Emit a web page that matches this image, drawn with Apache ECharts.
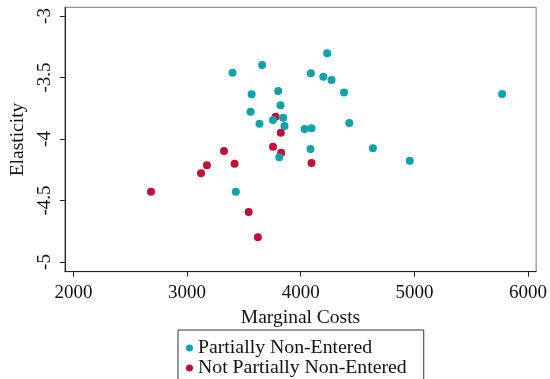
<!DOCTYPE html>
<html>
<head>
<meta charset="utf-8">
<script src="https://cdn.jsdelivr.net/npm/echarts@6/dist/echarts.min.js"></script>
<style>
html,body{margin:0;padding:0;background:#fff;}
#chart{width:550px;height:379px;}
</style>
</head>
<body>
<div id="chart"></div>
<script>
var seriesNames = ['Partially Non-Entered', 'Not Partially Non-Entered'];
var tealX = [3400,3661,4233,4089,4199,4271,4381,3568,3802,3822,3559,3846,3756,3637,3857,4427,4034,4095,4086,4635,3811,4959,3429,5772];
var tealY = [-3.461,-3.398,-3.303,-3.466,-3.493,-3.520,-3.621,-3.637,-3.610,-3.726,-3.778,-3.827,-3.846,-3.875,-3.894,-3.870,-3.919,-3.913,-4.081,-4.076,-4.149,-4.176,-4.428,-3.634];
var redX = [3779,3825,3756,3828,4095,3325,3418,3175,3123,3542,3623,2683];
var redY = [-3.818,-3.949,-4.062,-4.111,-4.195,-4.098,-4.201,-4.214,-4.279,-4.593,-4.799,-4.428];
var xTicks = [2000,3000,4000,5000,6000];
var yTicks = [-5,-4.5,-4,-3.5,-3];
var xTitle = 'Marginal Costs';
var yTitle = 'Elasticity';

function pairs(xs, ys){ return xs.map(function(v,i){ return [v, ys[i]]; }); }
function plain(v){ return String(v); }

var FONT = 'Liberation Serif';
var chart = echarts.init(document.getElementById('chart'), null, {renderer:'canvas'});
chart.setOption({
  animation:false,
  backgroundColor:'#fff',
  grid:{left:60.7,right:11.5,top:7.3,bottom:107.3,show:true,borderColor:'#777',borderWidth:1,backgroundColor:'transparent'},
  xAxis:{
    type:'value', min:1925.4, max:6071,
    name:xTitle, nameLocation:'middle', nameGap:29,
    nameTextStyle:{fontFamily:FONT,fontSize:19.5,color:'#111'},
    axisLine:{show:true,onZero:false,lineStyle:{color:'#222',width:1}},
    axisTick:{show:true,length:5,customValues:xTicks,lineStyle:{color:'#222'}},
    axisLabel:{customValues:xTicks,formatter:plain,fontFamily:FONT,fontSize:19,color:'#111',margin:12},
    splitLine:{show:false}
  },
  yAxis:{
    type:'value', min:-5.079, max:-2.929,
    name:yTitle, nameLocation:'middle', nameGap:32,
    nameTextStyle:{fontFamily:FONT,fontSize:19.5,color:'#111'},
    axisLine:{show:true,onZero:false,lineStyle:{color:'#222',width:1}},
    axisTick:{show:true,length:5,customValues:yTicks,lineStyle:{color:'#222'}},
    axisLabel:{customValues:yTicks,formatter:plain,rotate:90,fontFamily:FONT,fontSize:19,color:'#111',margin:10},
    splitLine:{show:false}
  },
  legend:{
    data:[seriesNames[0],seriesNames[1]],
    orient:'vertical', left:178, top:330, height:120,
    padding:[8,17,30,8], itemGap:0, itemWidth:7, itemHeight:7,
    icon:'circle', borderColor:'#333', borderWidth:1,
    textStyle:{fontFamily:FONT,fontSize:19.8,color:'#111',lineHeight:20}
  },
  series:[
    {name:seriesNames[1],type:'scatter',symbol:'circle',symbolSize:8,data:pairs(redX,redY),itemStyle:{color:'#c0103a',opacity:1}},
    {name:seriesNames[0],type:'scatter',symbol:'circle',symbolSize:8,data:pairs(tealX,tealY),itemStyle:{color:'#0fa2ab',opacity:1}}
  ]
});
</script>
</body>
</html>
